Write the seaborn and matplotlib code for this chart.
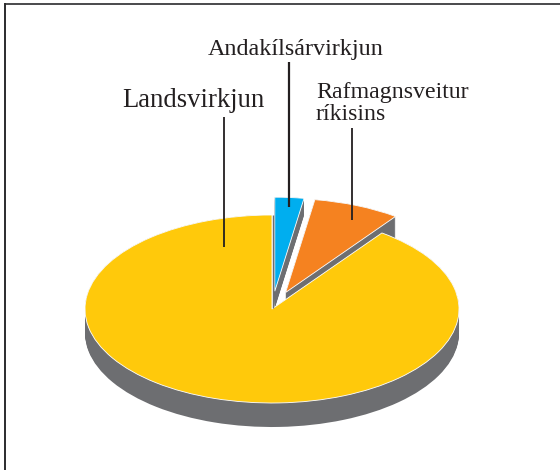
import numpy as np
import matplotlib
matplotlib.use("Agg")
import matplotlib.pyplot as plt
import seaborn as sns

sns.set_theme(style="white")
plt.rcParams['font.family'] = ['Liberation Serif', 'DejaVu Serif']

# data: share of production (%)
companies = ["Andakílsárvirkjun", "Rafmagnsveitur\nríkisins", "Landsvirkjun"]
shares = [2.5, 7.5, 90.0]
pulled_out = [0.19, 0.19, 0.0]
palette = sns.color_palette(["#00aeef", "#f58220", "#ffc90b"])
side_colour = "#6d6e71"
frame_colour = "#2b2b2d"

W, H = 560, 470
CX, CY, RX, RY, DEPTH = 272, 309, 187, 94, 24
BLUE_DEPTH = 17

fig = plt.figure(figsize=(W / 100, H / 100), dpi=100, facecolor="white")
ax = fig.add_axes([0, 0, 1, 1])


def layer(show, colours, dy=0.0, edge="none", lw=0.0):
    cols = [c if s else "none" for c, s in zip(colours, show)]
    wedges, _ = ax.pie(shares, explode=pulled_out, colors=cols, startangle=90,
                       counterclock=False, center=(0, dy), radius=1,
                       wedgeprops=dict(edgecolor=edge, linewidth=lw))
    for w, s in zip(wedges, show):
        w.set_visible(s)


grey = [side_colour] * 3
blue_only = [True, False, False]
orange_only = [False, True, False]
small = [True, True, False]
big = [False, False, True]
steps = np.linspace(1, 0, DEPTH + 1)

for k in steps:
    layer(orange_only, grey, -DEPTH / RY * k)
for k in steps:
    layer(blue_only, grey, -BLUE_DEPTH / RY * k)
layer(small, palette, edge="white", lw=0.6)
for k in steps:
    layer(big, grey, -DEPTH / RY * k)
layer(big, palette, edge="white", lw=0.6)

ax.set_aspect("auto")
ax.set_xlim((0 - CX) / RX, (W - CX) / RX)
ax.set_ylim(-(H - CY) / RY, CY / RY)

# overlay in pixel coordinates for labels, leaders and frame
ov = fig.add_axes([0, 0, 1, 1], facecolor="none")
ov.set_xlim(0, W)
ov.set_ylim(H, 0)
ov.axis("off")

ink = "#231f20"
ov.plot([272.5, 272.5], [215, 308], color=side_colour, lw=1.0, solid_capstyle="butt")
ov.plot([224, 224], [117, 247], color=ink, lw=1.3, solid_capstyle="butt")
ov.plot([288.5, 288.5], [62, 207], color=ink, lw=1.6, solid_capstyle="butt")
ov.plot([352, 352], [128, 220], color=ink, lw=1.3, solid_capstyle="butt")

ov.text(296, 55, companies[0], ha="center", va="baseline", fontsize=17.4, color=ink)
ov.text(316, 98, companies[1].split("\n")[0], ha="left", va="baseline", fontsize=17.2, color=ink)
ov.text(316, 120, companies[1].split("\n")[1], ha="left", va="baseline", fontsize=17.2, color=ink)
ov.text(122, 107, companies[2], ha="left", va="baseline", fontsize=19.2, color=ink)

ov.plot([5, 5], [470, 3], color=frame_colour, lw=1.4, solid_capstyle="butt")
ov.plot([5, 560], [3.5, 3.5], color=frame_colour, lw=1.2, solid_capstyle="butt")

fig.savefig("out.png", dpi=100)
